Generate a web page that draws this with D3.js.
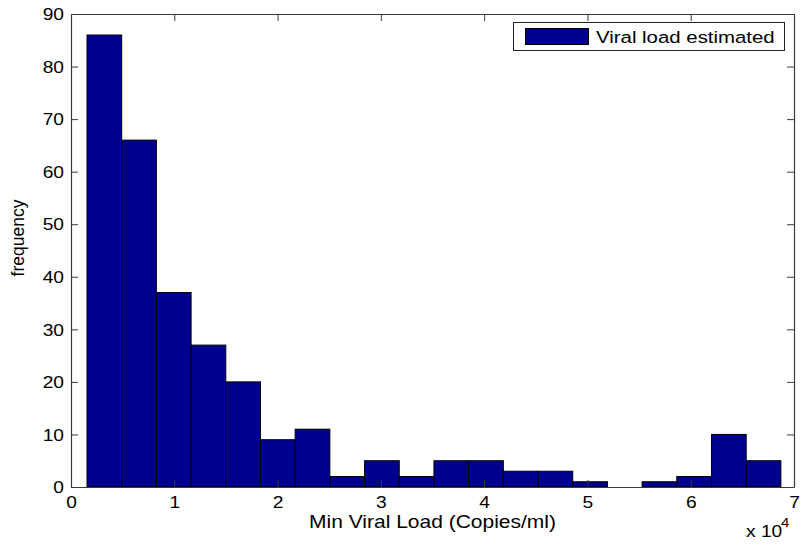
<!DOCTYPE html>
<html>
<head>
<meta charset="utf-8">
<script src="https://cdn.jsdelivr.net/npm/d3@7"></script>
<style>
  html, body { margin: 0; padding: 0; background: #fff; }
  svg { display: block; }
  text { font-family: "Liberation Sans", Arial, Helvetica, sans-serif; fill: #000; }
</style>
</head>
<body>
<svg id="chart" width="801" height="545"></svg>
<script>
// ---- data ----
const binEdges = [1550, 4909, 8268, 11627, 14986, 18345, 21704, 25063, 28422, 31781,
                  35140, 38499, 41858, 45217, 48576, 51935, 55294, 58653, 62012, 65371, 68730];
const counts = [86, 66, 37, 27, 20, 9, 11, 2, 5, 2, 5, 5, 3, 3, 1, 0, 1, 2, 10, 5];
const xTicks = [0, 10000, 20000, 30000, 40000, 50000, 60000, 70000];
const yTicks = [0, 10, 20, 30, 40, 50, 60, 70, 80, 90];
const seriesName = "Viral load estimated";
const xLabel = "Min Viral Load (Copies/ml)";
const yLabel = "frequency";

// ---- layout ----
const L = 71, R = 794, T = 14, B = 487;
const SX = 1.2; // horizontal text stretch seen in the reference
const svg = d3.select("#chart");
const x = d3.scaleLinear().domain([0, 70000]).range([L, R]);
const y = d3.scaleLinear().domain([0, 90]).range([B, T]);
const axisColor = "#3a3a3a";

const bars = counts.map((c, i) => ({ x0: binEdges[i], x1: binEdges[i + 1], c }));

svg.append("g").selectAll("rect").data(bars.filter(d => d.c > 0)).join("rect")
  .attr("x", d => x(d.x0))
  .attr("y", d => y(d.c))
  .attr("width", d => x(d.x1) - x(d.x0))
  .attr("height", d => y(0) - y(d.c))
  .attr("fill", "#00008F")
  .attr("stroke", "#000")
  .attr("stroke-width", 1);

// axes
const xAxis = svg.append("g").attr("transform", `translate(0,${B})`)
  .call(d3.axisBottom(x).tickValues(xTicks).tickFormat(v => v / 10000).tickSizeInner(-7).tickSizeOuter(0));
const xAxisTop = svg.append("g").attr("transform", `translate(0,${T})`)
  .call(d3.axisTop(x).tickValues(xTicks).tickFormat("").tickSizeInner(-7).tickSizeOuter(0));
const yAxis = svg.append("g").attr("transform", `translate(${L},0)`)
  .call(d3.axisLeft(y).tickValues(yTicks).tickSizeInner(-7).tickSizeOuter(0));
const yAxisR = svg.append("g").attr("transform", `translate(${R},0)`)
  .call(d3.axisRight(y).tickValues(yTicks).tickFormat("").tickSizeInner(-7).tickSizeOuter(0));

[xAxis, xAxisTop, yAxis, yAxisR].forEach(g => {
  g.select(".domain").attr("stroke", axisColor).attr("stroke-width", 1.2);
  g.selectAll(".tick line").attr("stroke", axisColor).attr("stroke-width", 1);
});
xAxis.selectAll(".tick text")
  .attr("y", 21).attr("dy", 0)
  .attr("font-size", 16).attr("fill", "#000")
  .attr("font-family", '"Liberation Sans", Arial, sans-serif')
  .attr("transform", `scale(${SX},1)`);
yAxis.selectAll(".tick text")
  .attr("x", -7 / SX).attr("dy", "0.36em")
  .attr("font-size", 16).attr("fill", "#000")
  .attr("font-family", '"Liberation Sans", Arial, sans-serif')
  .attr("transform", `scale(${SX},1)`);

// axis labels
svg.append("text")
  .attr("transform", `translate(${(L + R) / 2},528) scale(${SX},1)`)
  .attr("text-anchor", "middle").attr("font-size", 17.5)
  .text(xLabel);
svg.append("text")
  .attr("transform", `translate(24,238) rotate(-90)`)
  .attr("text-anchor", "middle").attr("font-size", 17.5)
  .text(yLabel);

// exponent
svg.append("text")
  .attr("transform", `translate(746,537) scale(${SX},1)`)
  .attr("font-size", 16)
  .text("x 10");
svg.append("text")
  .attr("transform", `translate(781,527) scale(${SX},1)`)
  .attr("font-size", 12.5)
  .text("4");

// legend
const lg = svg.append("g");
lg.append("rect").attr("x", 513.5).attr("y", 22.5).attr("width", 271).attr("height", 28)
  .attr("fill", "#fff").attr("stroke", "#222").attr("stroke-width", 1);
lg.append("rect").attr("x", 525.5).attr("y", 28.5).attr("width", 63).attr("height", 16)
  .attr("fill", "#00008F").attr("stroke", "#000").attr("stroke-width", 1);
lg.append("text")
  .attr("transform", `translate(596,43) scale(${SX},1)`)
  .attr("font-size", 17)
  .text(seriesName);
</script>
</body>
</html>
